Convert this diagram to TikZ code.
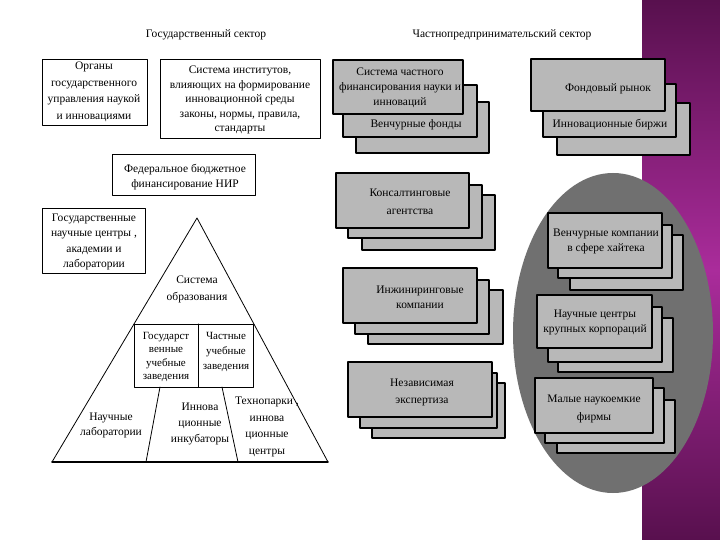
\documentclass[tikz,border=0pt]{standalone}
\usepackage{fontspec}
\setmainfont{Liberation Serif}
\usepackage{tikz}
\definecolor{boxgray}{RGB}{184,184,184}
\definecolor{ovalgray}{RGB}{112,112,112}
\definecolor{plumdark}{RGB}{88,16,78}
\definecolor{plumlight}{RGB}{170,44,155}

\begin{document}
\begin{tikzpicture}[line cap=round,line join=round,x=1pt,y=-1pt,
  wbox/.style={draw=black,line width=1pt,fill=white},
  gbox/.style={draw=black,line width=1.3pt,fill=boxgray},
  lbl/.style={font=\fontsize{11.5}{15}\selectfont,align=center,inner sep=0pt}]
\useasboundingbox (0,0) rectangle (720,540);
\fill[white] (0,0) rectangle (720,540);
% purple strip and grey oval
\shade[top color=plumdark,bottom color=plumdark,middle color=plumlight] (642,0) rectangle (720,540);
\fill[ovalgray] (613,333) ellipse (100 and 160);
% headings
\node[lbl] (gos) at (206,35) {Государственный сектор};
\node[lbl] (chast) at (502,35) {Частнопредпринимательский сектор};
% state sector boxes
\draw[wbox] (42,60) rectangle (147,126);
\node[lbl,font=\fontsize{11.5}{16.5}\selectfont] (organy) at (94,92) {Органы\\государственного\\управления наукой\\и инновациями};
\draw[wbox] (160,60) rectangle (320,139);
\node[lbl,font=\fontsize{11.5}{14.5}\selectfont] (inst) at (240,100) {Система институтов,\\влияющих на формирование\\инновационной среды\\законы, нормы, правила,\\стандарты};
\draw[wbox] (112,155) rectangle (255,196);
\node[lbl] (fed) at (185,177) {Федеральное бюджетное\\финансирование НИР};
\draw[wbox] (42,209) rectangle (145,273);
\node[lbl,font=\fontsize{11.5}{15.5}\selectfont] (nauch) at (94,242) {Государственные\\научные центры ,\\академии и\\лаборатории};
% triangle
\draw[line width=0.8pt] (328,462) -- (197,218) -- (52,462);
\draw[line width=1.4pt] (52,462) -- (328,462);
\node[lbl,font=\fontsize{11.5}{17}\selectfont] (obraz) at (197,289) {Система\\образования};
\draw[wbox] (134,324) rectangle (253,387);
\draw[line width=1pt] (198,324) -- (198,387);
\draw[line width=0.8pt] (160,387) -- (146,462);
\draw[line width=0.8pt] (222,387) -- (238,462);
\node[lbl,font=\fontsize{11}{13.5}\selectfont] (gosucheb) at (166,357) {Государст\\венные\\учебные\\заведения};
\node[lbl,font=\fontsize{11}{15}\selectfont] (chucheb) at (226,352) {Частные\\учебные\\заведения};
\node[lbl] (lab) at (111,425) {Научные\\лаборатории};
\node[lbl,font=\fontsize{11.5}{16}\selectfont] (inkub) at (200,424) {Иннова\\ционные\\инкубаторы};
\node[lbl,font=\fontsize{11.5}{16.5}\selectfont] (tehno) at (267,427) {Технопарки ,\\иннова\\ционные\\центры};
% private sector stacks
\draw[gbox] (356,102) rectangle (489,153);
\draw[gbox] (343,85) rectangle (477,137);
\draw[gbox] (333,60) rectangle (463,114);
\node[lbl] (finans) at (400,88) {Система частного\\финансирования науки и\\инноваций};
\node[lbl] (venfond) at (416,125) {Венчурные фонды};
\draw[gbox] (557,103) rectangle (690,155);
\draw[gbox] (543,84) rectangle (676,137);
\draw[gbox] (531,59) rectangle (665,111);
\node[lbl] (fondr) at (608,89) {Фондовый рынок};
\node[lbl] (birzhi) at (610,125) {Инновационные биржи};
\draw[gbox] (362,195) rectangle (495,250);
\draw[gbox] (348,185) rectangle (482,238);
\draw[gbox] (336,173) rectangle (469,228);
\node[lbl,font=\fontsize{11.5}{18}\selectfont] (konsalt) at (410,202) {Консалтинговые\\агентства};
\draw[gbox] (368,290) rectangle (503,344);
\draw[gbox] (355,280) rectangle (489,334);
\draw[gbox] (343,268) rectangle (477,323);
\node[lbl] (inzh) at (420,297) {Инжиниринговые\\компании};
\draw[gbox] (372,383) rectangle (505,438);
\draw[gbox] (360,373) rectangle (497,428);
\draw[gbox] (348,362) rectangle (492,417);
\node[lbl,font=\fontsize{11.5}{17}\selectfont] (nezav) at (422,392) {Независимая\\экспертиза};
% stacks in the oval
\draw[gbox] (570,235) rectangle (683,290);
\draw[gbox] (558,225) rectangle (672,278);
\draw[gbox] (548,213) rectangle (662,268);
\node[lbl] (venkomp) at (606,241) {Венчурные компании\\в сфере хайтека};
\draw[gbox] (558,318) rectangle (673,372);
\draw[gbox] (548,307) rectangle (662,362);
\draw[gbox] (537,295) rectangle (652,348);
\node[lbl] (korp) at (595,322) {Научные центры\\крупных корпораций};
\draw[gbox] (557,400) rectangle (675,453);
\draw[gbox] (545,388) rectangle (664,443);
\draw[gbox] (535,378) rectangle (653,433);
\node[lbl,font=\fontsize{11.5}{18}\selectfont] (firmy) at (594,409) {Малые наукоемкие\\фирмы};
\end{tikzpicture}
\end{document}
